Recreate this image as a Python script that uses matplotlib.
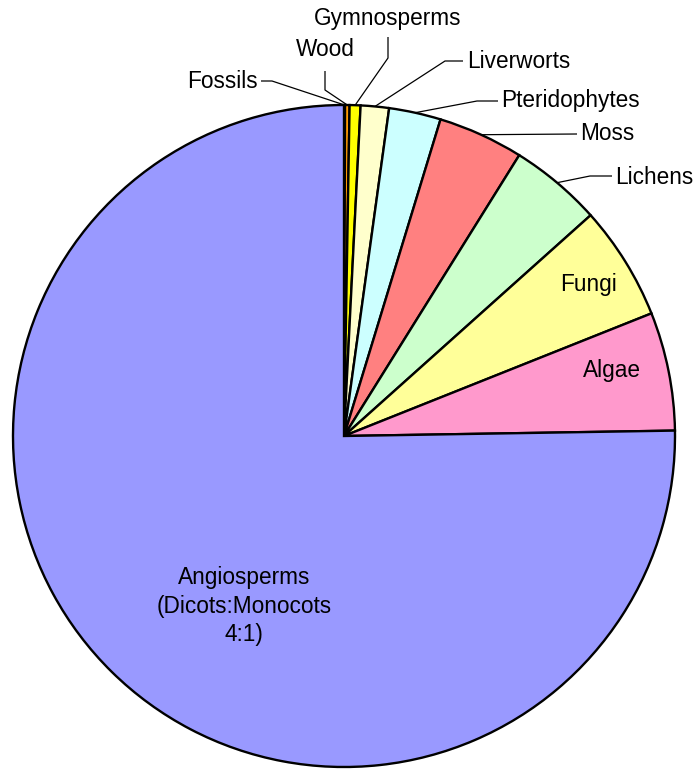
import numpy as np
import matplotlib
matplotlib.use("Agg")
import matplotlib.pyplot as plt

plt.rcParams['font.family'] = ['Liberation Sans', 'DejaVu Sans']

# Herbarium collection share by group (percent), clockwise from 12 o'clock
categories = ["Fossils", "Wood", "Gymnosperms", "Liverworts", "Pteridophytes",
              "Moss", "Lichens", "Fungi", "Algae",
              "Angiosperms\n(Dicots:Monocots\n4:1)"]
shares = [0.05, 0.22, 0.53, 1.38, 2.53, 4.17, 4.50, 5.58, 5.78, 75.26]
colors = ["#FF6600", "#FF9900", "#FFFF00", "#FFFFCC", "#CCFFFF",
          "#FF8080", "#CCFFCC", "#FFFF99", "#FF99CC", "#9999FF"]

W, H = 696, 769
fig = plt.figure(figsize=(W / 100, H / 100), dpi=100)
ax = fig.add_axes([0, 0, 1, 1])

cx, cy, R = 344, H - 436, 331
wedges, _ = ax.pie(shares, colors=colors, startangle=90, counterclock=False,
                   center=(cx, cy), radius=R, frame=True,
                   wedgeprops=dict(edgecolor='black', linewidth=1.7))
ax.set_xlim(0, W)
ax.set_ylim(0, H)
ax.set_aspect('equal')
ax.axis('off')

FS = 16.3

def edge_point(w):
    a = np.deg2rad((w.theta1 + w.theta2) / 2)
    return cx + R * np.cos(a), cy + R * np.sin(a)

def Y(y):
    return H - y

# Outside labels: (text x, text y, ha, knee points)
outside = {
    0: (258, 81, 'right', [(261, 81), (272, 81)]),
    1: (325, 50, 'center', [(325, 71), (325, 90)]),
    2: (388, 18, 'center', [(388, 37), (388, 58)]),
    3: (467, 61, 'left', [(463, 61), (445, 61)]),
    4: (501, 101, 'left', [(498, 101), (477, 101)]),
    5: (580, 134, 'left', [(577, 134)]),
    6: (615, 177, 'left', [(612, 176), (590, 176)]),
}
for i, (tx, ty, ha, knees) in outside.items():
    ax.text(tx, Y(ty), categories[i], fontsize=FS, ha=ha, va='center')
    ex, ey = edge_point(wedges[i])
    xs = [k[0] for k in knees] + [ex]
    ys = [Y(k[1]) for k in knees] + [ey]
    ax.plot(xs, ys, color='black', linewidth=0.9, solid_capstyle='butt')

# Inside labels
ax.text(588, Y(285), categories[7], fontsize=FS, ha='center', va='center')
ax.text(612, Y(371), categories[8], fontsize=FS, ha='center', va='center')
ax.text(244, Y(606), categories[9], fontsize=FS, ha='center', va='center',
        multialignment='center', linespacing=1.32)

fig.savefig("out.png", dpi=100)
